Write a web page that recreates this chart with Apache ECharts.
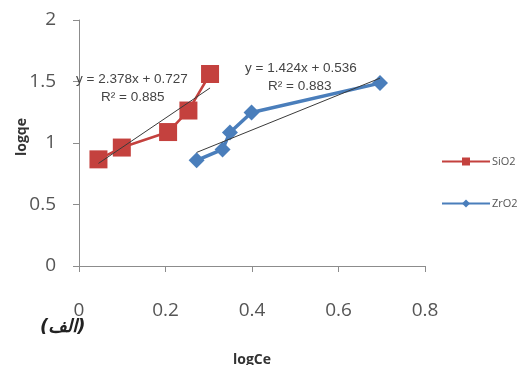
<!DOCTYPE html>
<html><head><meta charset="utf-8">
<script src="https://cdn.jsdelivr.net/npm/echarts@6/dist/echarts.min.js"></script>
<style>html,body{margin:0;padding:0;background:#fff}#c{width:526px;height:365px}</style>
</head><body><div id="c"></div>
<script>
const sio2X = [0.045, 0.099, 0.206, 0.253, 0.303];
const sio2Y = [0.867, 0.963, 1.089, 1.264, 1.561];
const zro2X = [0.272, 0.332, 0.349, 0.399, 0.696];
const zro2Y = [0.859, 0.948, 1.086, 1.248, 1.487];
const sio2Trend = {slope: 2.378, intercept: 0.727, r2: '0.885'};
const zro2Trend = {slope: 1.424, intercept: 0.536, r2: '0.883'};
const xTicks = [0, 0.2, 0.4, 0.6, 0.8];
const yTicks = [0, 0.5, 1, 1.5, 2];
const names = ['SiO2', 'ZrO2'];

const pairs = (xs, ys) => xs.map((x, i) => [x, ys[i]]);
const trend = (t, xs) => [[xs[0], t.slope * xs[0] + t.intercept], [xs[xs.length - 1], t.slope * xs[xs.length - 1] + t.intercept]];

const red = '#c4413e', blue = '#4a7ebb';
const eqFont = '13.5px "Liberation Sans Narrow", "Liberation Sans", sans-serif';
const chart = echarts.init(document.getElementById('c'));
chart.setOption({
  animation: false,
  backgroundColor: '#fff',
  grid: {left: 79, right: 101, top: 20, bottom: 99, containLabel: false, outerBoundsMode: 'none'},
  xAxis: {
    type: 'value', min: 0, max: 0.8, interval: 0.2,
    axisLine: {show: true, lineStyle: {color: '#8c8c8c', width: 1}},
    axisTick: {show: true, length: 6, lineStyle: {color: '#8c8c8c'}},
    splitLine: {show: false},
    axisLabel: {color: '#555', fontSize: 19, fontFamily: 'Open Sans', margin: 35,
      formatter: v => xTicks.includes(Math.round(v * 10) / 10) ? String(Math.round(v * 10) / 10) : ''},
    name: 'logCe', nameLocation: 'middle', nameGap: 87, nameMoveOverlap: false,
    nameTextStyle: {color: '#333', fontSize: 14, fontWeight: 'bold', fontFamily: 'Open Sans'}
  },
  yAxis: {
    type: 'value', min: 0, max: 2, interval: 0.5,
    axisLine: {show: true, lineStyle: {color: '#8c8c8c', width: 1}},
    axisTick: {show: true, length: 6, lineStyle: {color: '#8c8c8c'}},
    splitLine: {show: false},
    axisLabel: {color: '#555', fontSize: 19, fontFamily: 'Open Sans', margin: 23,
      formatter: v => yTicks.includes(v) ? String(v) : ''},
    name: 'logqe', nameLocation: 'middle', nameGap: 50, nameRotate: 90, nameMoveOverlap: false,
    nameTextStyle: {color: '#333', fontSize: 14, fontWeight: 'bold', fontFamily: 'Open Sans', padding: [0, 0, 0, 12]}
  },
  legend: {
    orient: 'vertical', left: 436, top: 151, itemGap: 31, itemWidth: 48, itemHeight: 10,
    data: names,
    textStyle: {color: '#555', fontSize: 11, fontFamily: 'Open Sans', padding: [0, 0, 0, -3]}
  },
  series: [
    {name: names[0], type: 'line', data: pairs(sio2X, sio2Y), symbol: 'rect', symbolSize: 18,
      lineStyle: {color: red, width: 2.5}, itemStyle: {color: red}, z: 3},
    {name: names[1], type: 'line', data: pairs(zro2X, zro2Y), symbol: 'diamond', symbolSize: 16,
      lineStyle: {color: blue, width: 3.5}, itemStyle: {color: blue}, z: 3},
    {name: 'trend1', type: 'line', data: trend(sio2Trend, sio2X), symbol: 'none',
      lineStyle: {color: '#3a3a3a', width: 1}, z: 4, silent: true},
    {name: 'trend2', type: 'line', data: trend(zro2Trend, zro2X), symbol: 'none',
      lineStyle: {color: '#3a3a3a', width: 1}, z: 4, silent: true}
  ],
  graphic: [
    {type: 'text', left: 76, top: 72, z: 10, style: {text: 'y = ' + sio2Trend.slope + 'x + ' + sio2Trend.intercept, fill: '#444', font: eqFont}},
    {type: 'text', left: 101, top: 90, z: 10, style: {text: 'R² = ' + sio2Trend.r2, fill: '#444', font: eqFont}},
    {type: 'text', left: 245, top: 61, z: 10, style: {text: 'y = ' + zro2Trend.slope + 'x + ' + zro2Trend.intercept, fill: '#444', font: eqFont}},
    {type: 'text', left: 268, top: 79, z: 10, style: {text: 'R² = ' + zro2Trend.r2, fill: '#444', font: eqFont}},
    {type: 'text', left: 40, top: 318, z: 10, style: {text: '(الف)', fill: '#222', font: 'italic bold 18px "DejaVu Sans", sans-serif'}}
  ]
});
</script></body></html>
